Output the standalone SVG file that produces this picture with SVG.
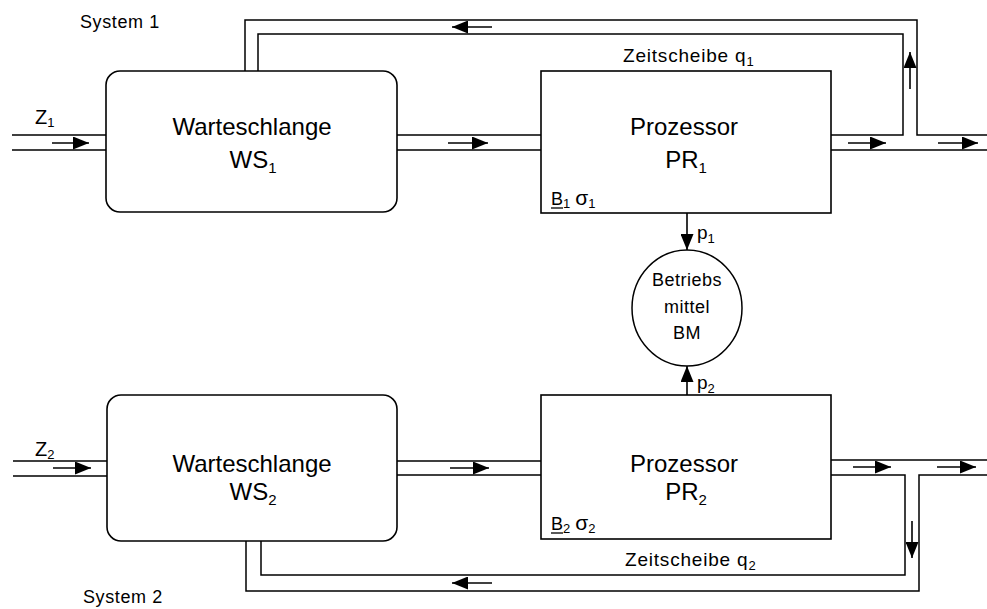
<svg xmlns="http://www.w3.org/2000/svg" width="987" height="609" viewBox="0 0 987 609">
<defs>
<marker id="ah" viewBox="0 0 16 13" refX="16" refY="6.5" markerWidth="16" markerHeight="13" markerUnits="userSpaceOnUse" orient="auto">
<path d="M0,0 L16,6.5 L0,13 Z" fill="#000"/>
</marker>
<style>
.box{fill:#fff;stroke:#000;stroke-width:1.6}
.pipe{fill:none;stroke:#000;stroke-width:1.5}
.arr{fill:none;stroke:#000;stroke-width:1.6;marker-end:url(#ah)}
text{font-family:"Liberation Sans",Arial,sans-serif;fill:#000}
.big{font-size:24px;text-anchor:middle}
.sm{font-size:18px;letter-spacing:0.6px}
.zs{font-size:19px;letter-spacing:0.8px}
.sub{font-size:13px;letter-spacing:0}
.bsub{font-size:15px}
.mid{font-size:18px;text-anchor:middle;letter-spacing:0.5px}
</style>
</defs>
<rect width="987" height="609" fill="#fff"/>

<g id="connectors">
<!-- System 1 pipes -->
<path class="pipe" d="M12,135 H106 M12,150 H106"/>
<path class="pipe" d="M397,135 H541 M397,150 H541"/>
<path class="pipe" d="M830,135 H903 V34 H258 V71"/>
<path class="pipe" d="M245,71 V20 H917 V135 H987"/>
<path class="pipe" d="M830,150 H987"/>
<!-- System 2 pipes -->
<path class="pipe" d="M13,461 H107 M13,476 H107"/>
<path class="pipe" d="M397,461 H541 M397,475 H541"/>
<path class="pipe" d="M831,460 H987"/>
<path class="pipe" d="M831,475 H905 V575 H261 V541"/>
<path class="pipe" d="M246,541 V591 H919 V475 H987"/>
<!-- arrows system 1 -->
<line class="arr" x1="52" y1="143" x2="89" y2="143"/>
<line class="arr" x1="448" y1="143" x2="488" y2="143"/>
<line class="arr" x1="848" y1="143" x2="886" y2="143"/>
<line class="arr" x1="938" y1="143" x2="978" y2="143"/>
<line class="arr" x1="910" y1="89" x2="910" y2="52"/>
<line class="arr" x1="492" y1="27" x2="452" y2="27"/>
<line class="arr" x1="687" y1="213" x2="687" y2="250"/>
<!-- arrows system 2 -->
<line class="arr" x1="687" y1="395" x2="687" y2="366"/>
<line class="arr" x1="53" y1="468" x2="91" y2="468"/>
<line class="arr" x1="450" y1="468" x2="489" y2="468"/>
<line class="arr" x1="853" y1="467" x2="891" y2="467"/>
<line class="arr" x1="937" y1="467" x2="976" y2="467"/>
<line class="arr" x1="912" y1="521" x2="912" y2="558"/>
<line class="arr" x1="492" y1="583" x2="452" y2="583"/>
</g>

<g id="labels">
<text class="sm" x="80" y="28">System 1</text>
<text class="sm" x="83" y="603">System 2</text>
<text x="35" y="124" font-size="20">Z<tspan class="sub" dy="3">1</tspan></text>
<text x="35" y="456" font-size="20">Z<tspan class="sub" dy="3">2</tspan></text>
<text class="zs" x="623" y="62">Zeitscheibe q<tspan class="sub" dy="4">1</tspan></text>
<text class="zs" x="625" y="566">Zeitscheibe q<tspan class="sub" dy="4">2</tspan></text>
<text x="697" y="239" font-size="19">p<tspan class="sub" dy="4">1</tspan></text>
<text x="697" y="389" font-size="19">p<tspan class="sub" dy="4">2</tspan></text>
</g>

<g id="ws1">
<rect class="box" x="106" y="71" width="291" height="141" rx="14"/>
<text class="big" x="252" y="135">Warteschlange</text>
<text class="big" x="253" y="168">WS<tspan class="bsub" dy="5">1</tspan></text>
</g>

<g id="pr1">
<rect class="box" x="541" y="71" width="290" height="142"/>
<text class="big" x="684" y="135">Prozessor</text>
<text class="big" x="686" y="168">PR<tspan class="bsub" dy="5">1</tspan></text>
<text x="551" y="205" font-size="18">B<tspan class="sub" dy="3">1</tspan><tspan dx="5" dy="-3" font-size="21">σ</tspan><tspan class="sub" dy="3">1</tspan></text>
<line x1="551" y1="208" x2="563" y2="208" stroke="#000" stroke-width="1.3"/>
</g>

<g id="bm">
<ellipse cx="687" cy="308" rx="55" ry="58" fill="#fff" stroke="#000" stroke-width="1.5"/>
<text class="mid" x="687" y="286">Betriebs</text>
<text class="mid" x="687" y="313">mittel</text>
<text class="mid" x="687" y="339">BM</text>
</g>

<g id="ws2">
<rect class="box" x="107" y="395" width="290" height="146" rx="14"/>
<text class="big" x="252" y="472">Warteschlange</text>
<text class="big" x="253" y="500">WS<tspan class="bsub" dy="5">2</tspan></text>
</g>

<g id="pr2">
<rect class="box" x="541" y="395" width="290" height="144"/>
<text class="big" x="684" y="472">Prozessor</text>
<text class="big" x="686" y="500">PR<tspan class="bsub" dy="5">2</tspan></text>
<text x="551" y="530" font-size="18">B<tspan class="sub" dy="3">2</tspan><tspan dx="5" dy="-3" font-size="21">σ</tspan><tspan class="sub" dy="3">2</tspan></text>
<line x1="551" y1="533" x2="563" y2="533" stroke="#000" stroke-width="1.3"/>
</g>
</svg>
